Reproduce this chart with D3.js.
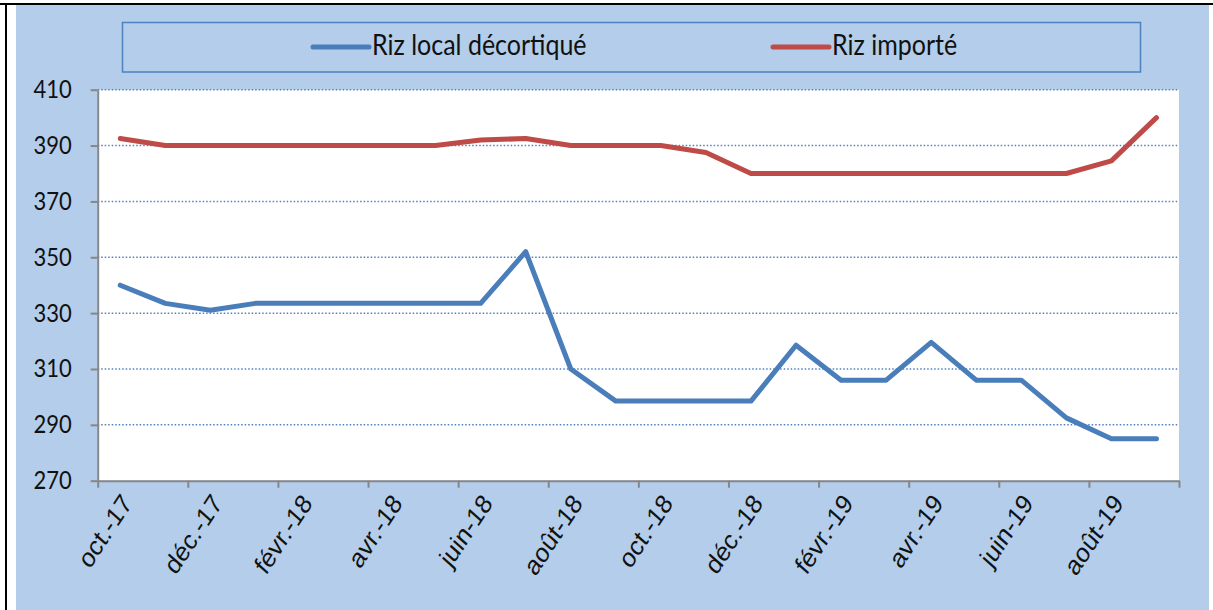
<html>
	<head>
		<meta charset="utf-8" />
		<title>Prix du riz</title>
		<script src="https://cdn.jsdelivr.net/npm/d3@7"></script>
		<style type="text/css">
			body { margin: 0; background: #fff; }
			svg { display: block; }
		</style>
	</head>
	<body>
		<div id="chart"></div>
	</body>
</html>
<script type="text/javascript">
	const width = 1213, height = 610;

	// Months (one point per month) and the ones that carry a tick label
	const months = ["oct.-17", "nov.-17", "déc.-17", "janv.-18", "févr.-18", "mars-18", "avr.-18", "mai-18",
		"juin-18", "juil.-18", "août-18", "sept.-18", "oct.-18", "nov.-18", "déc.-18", "janv.-19",
		"févr.-19", "mars-19", "avr.-19", "mai-19", "juin-19", "juil.-19", "août-19", "sept.-19"];
	const yTicks = [270, 290, 310, 330, 350, 370, 390, 410];

	// Series values
	const rizLocal = [340, 333.5, 331, 333.5, 333.5, 333.5, 333.5, 333.5, 333.5, 352, 310, 298.5,
		298.5, 298.5, 298.5, 318.5, 306, 306, 319.5, 306, 306, 292.5, 285, 285];
	const rizImporte = [392.5, 390, 390, 390, 390, 390, 390, 390, 392, 392.5, 390, 390,
		390, 387.5, 380, 380, 380, 380, 380, 380, 380, 380, 384.5, 400];

	const series = [
		{ name: "Riz local décortiqué", values: rizLocal, color: "#4A7EBB", lx: 313 },
		{ name: "Riz importé", values: rizImporte, color: "#BE4B48", lx: 773 }
	];

	const stretch = 1.16; // the text in the picture is a little taller than wide
	const font = "Lato, 'Liberation Sans', sans-serif";

	const plot = { left: 97.7, right: 1179, top: 89.7, bottom: 480.7 };

	const x = d3.scaleLinear().domain([0, months.length]).range([plot.left, plot.right]);
	const y = d3.scaleLinear().domain([270, 410]).range([plot.bottom, plot.top]);

	const svg = d3.select("#chart").append("svg")
		.attr("width", width)
		.attr("height", height)
		.attr("viewBox", "0 0 " + width + " " + height);

	// frame and background
	svg.append("rect").attr("x", 16).attr("y", 5).attr("width", 1193).attr("height", 605).attr("fill", "#B3CDEA");
	svg.append("line").attr("x1", 0).attr("x2", width).attr("y1", 4).attr("y2", 4).attr("stroke", "#000").attr("stroke-width", 2);
	svg.append("line").attr("x1", 6).attr("x2", 6).attr("y1", 3).attr("y2", height).attr("stroke", "#000").attr("stroke-width", 2);

	svg.append("rect")
		.attr("x", plot.left).attr("y", plot.top)
		.attr("width", plot.right - plot.left).attr("height", plot.bottom - plot.top)
		.attr("fill", "#fff");

	// dotted gridlines
	svg.append("g").selectAll("line")
		.data(yTicks.slice(1))
		.enter().append("line")
		.attr("x1", plot.left).attr("x2", plot.right)
		.attr("y1", d => y(d)).attr("y2", d => y(d))
		.attr("stroke", "#4F81BD")
		.attr("stroke-width", 1.5)
		.attr("stroke-dasharray", "1.5,2");

	// y axis
	const yAxis = svg.append("g")
		.attr("transform", "translate(" + plot.left + ",0)")
		.call(d3.axisLeft(y).tickValues(yTicks).tickSize(7).tickSizeOuter(0).tickPadding(0));
	yAxis.select(".domain").attr("stroke", "#868686").attr("stroke-width", 2);
	yAxis.selectAll(".tick line").attr("stroke", "#868686").attr("stroke-width", 2);
	yAxis.selectAll(".tick text")
		.attr("x", null).attr("dy", null)
		.attr("font-family", font)
		.attr("font-size", 22)
		.attr("fill", "#111")
		.attr("text-anchor", "end")
		.attr("transform", "translate(-26,8) scale(1," + stretch + ")");

	// x axis, a tick every two months
	const xTickVals = d3.range(0, months.length + 1, 2);
	const xAxis = svg.append("g")
		.attr("transform", "translate(0," + plot.bottom + ")")
		.call(d3.axisBottom(x).tickValues(xTickVals).tickSize(7).tickSizeOuter(0)
			.tickFormat(i => months[i] || ""));
	xAxis.select(".domain").attr("stroke", "#868686").attr("stroke-width", 2);
	xAxis.selectAll(".tick line").attr("stroke", "#868686").attr("stroke-width", 2);
	xAxis.selectAll(".tick text")
		.attr("y", null).attr("dy", null)
		.attr("font-family", "'Liberation Sans', Arial, sans-serif")
		.attr("font-size", 23.5)
		.attr("fill", "#111")
		.attr("text-anchor", "end")
		.attr("transform", "translate(35,23) scale(1," + stretch + ") rotate(-52.7)");

	// lines
	const line = d3.line()
		.x((d, i) => x(i + 0.5))
		.y(d => y(d));

	svg.append("g").selectAll("path")
		.data(series)
		.enter().append("path")
		.attr("d", d => line(d.values))
		.attr("fill", "none")
		.attr("stroke", d => d.color)
		.attr("stroke-width", 5)
		.attr("stroke-linejoin", "round")
		.attr("stroke-linecap", "round");

	// legend
	const legend = svg.append("g");
	legend.append("rect")
		.attr("x", 122.5).attr("y", 22.5).attr("width", 1018).attr("height", 49.5)
		.attr("fill", "none").attr("stroke", "#4F81BD").attr("stroke-width", 1.5);

	const items = legend.selectAll("g.item")
		.data(series)
		.enter().append("g").attr("class", "item");
	items.append("line")
		.attr("x1", d => d.lx).attr("x2", d => d.lx + 56)
		.attr("y1", 47).attr("y2", 47)
		.attr("stroke", d => d.color)
		.attr("stroke-width", 5)
		.attr("stroke-linecap", "round");
	items.append("text")
		.attr("transform", d => "translate(" + (d.lx + 59) + ",55) scale(1," + stretch + ")")
		.attr("font-family", font)
		.attr("font-size", 25)
		.attr("fill", "#111")
		.text(d => d.name);
</script>
